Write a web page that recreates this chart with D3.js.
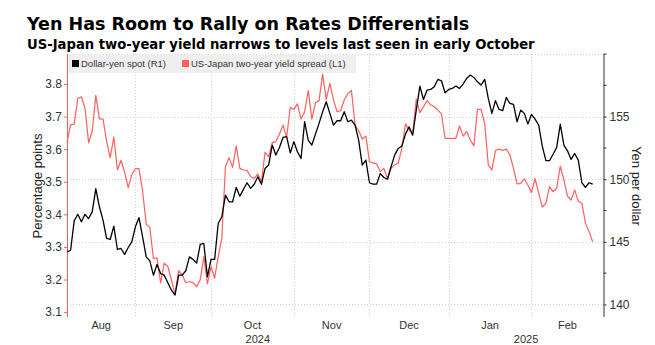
<!DOCTYPE html>
<html>
<head>
<meta charset="utf-8">
<script src="https://cdn.jsdelivr.net/npm/d3@7"></script>
<style>
  body { margin: 0; background: #fff; }
  svg { display: block; font-family: "Liberation Sans", Arial, sans-serif; }
</style>
</head>
<body>
<div id="chart"></div>
<script>
// first trading day shown; one value per weekday after it
const firstDay = "2024-08-06";

// US-Japan two-year yield spread, percentage points (left axis)
const spread = [
  3.62, 3.675, 3.677, 3.756, 3.76, 3.726, 3.62, 3.655, 3.765, 3.693,
  3.692, 3.624, 3.573, 3.637, 3.537, 3.566, 3.53, 3.482, 3.522, 3.54,
  3.54, 3.471, 3.37, 3.36, 3.265, 3.266, 3.19, 3.25, 3.24, 3.2,
  3.155, 3.227, 3.214, 3.19, 3.194, 3.19, 3.178, 3.2, 3.27, 3.187,
  3.24, 3.204, 3.27, 3.327, 3.546, 3.574, 3.544, 3.61, 3.541, 3.536,
  3.535, 3.516, 3.51, 3.524, 3.5, 3.59, 3.577, 3.62, 3.623, 3.646,
  3.674, 3.636, 3.728, 3.722, 3.739, 3.692, 3.715, 3.78, 3.692, 3.743,
  3.749, 3.83, 3.753, 3.802, 3.751, 3.715, 3.718, 3.751, 3.771, 3.78,
  3.674, 3.657, 3.631, 3.64, 3.562, 3.557, 3.555, 3.531, 3.541, 3.51,
  3.541, 3.552, 3.557, 3.603, 3.677, 3.659, 3.647, 3.753, 3.712, 3.73,
  3.749, 3.736, 3.73, 3.72, 3.708, 3.633, 3.633, 3.633, 3.633, 3.671,
  3.64, 3.654, 3.628, 3.61, 3.722, 3.722, 3.679, 3.552, 3.536, 3.596,
  3.6, 3.596, 3.6, 3.582, 3.541, 3.493, 3.495, 3.509, 3.49, 3.467,
  3.51, 3.465, 3.422, 3.434, 3.485, 3.47, 3.48, 3.548, 3.506, 3.456,
  3.444, 3.475, 3.44, 3.434, 3.373, 3.347, 3.316
];

// Dollar-yen spot (right axis)
const usdjpy = [
  144.2, 144.33, 146.68, 147.2, 146.6, 147.2, 146.86, 147.39, 149.25, 147.8,
  146.73, 145.27, 145.19, 146.25, 144.39, 144.47, 144.0, 144.55, 145.0, 146.2,
  146.94, 145.4, 143.8, 143.48, 142.34, 143.2, 142.47, 142.34, 141.73, 141.14,
  140.75, 142.34, 142.34, 142.69, 143.8, 143.6, 143.3, 144.8, 144.87, 142.2,
  143.6, 143.6, 146.47, 147.0, 148.73, 148.2, 148.2, 149.35, 148.65, 149.19,
  149.72, 149.27, 149.6, 150.2, 149.6, 150.86, 151.13, 152.73, 151.93, 152.54,
  153.34, 153.4, 152.1, 153.0, 152.2, 151.66, 154.6, 153.1, 152.73, 153.6,
  154.46, 155.39, 156.19, 155.26, 154.32, 154.67, 154.67, 155.39, 154.59, 154.72,
  154.32, 153.13, 151.13, 151.53, 149.72, 149.61, 149.61, 150.46, 150.14, 150.0,
  151.0, 151.93, 152.46, 152.65, 153.6, 154.19, 153.52, 155.52, 157.44, 156.37,
  157.12, 157.17, 157.39, 157.97, 157.86, 156.9, 157.17, 157.25, 157.44, 157.25,
  157.6, 158.05, 158.32, 158.13, 157.78, 157.52, 157.97, 156.45, 155.26, 156.27,
  155.57, 155.47, 156.53, 156.05, 155.97, 154.59, 155.52, 155.26, 154.4, 155.18,
  154.8, 154.32, 152.65, 151.48, 151.48, 152.0, 152.54, 154.4, 152.73, 152.27,
  151.58, 152.06, 151.53, 149.72, 149.35, 149.72, 149.61
];

const leftTicks = [3.1, 3.2, 3.3, 3.4, 3.5, 3.6, 3.7, 3.8];
const rightTicks = [140, 145, 150, 155];
const rightMinorTicks = [142.5, 147.5, 152.5, 157.5, 160];

const seriesNames = ["Dollar-yen spot (R1)", "US-Japan two-year yield spread (L1)"];
const seriesColors = ["#000000", "#ff5f5f"];

const title = "Yen Has Room to Rally on Rates Differentials";
const subtitle = "US-Japan two-year yield narrows to levels last seen in early October";

class YenChart {
  constructor(parentElement, width, height) {
    this.parentElement = parentElement;
    this.width = width;
    this.height = height;
    this.initVis();
  }

  initVis() {
    const vis = this;
    vis.plot = { left: 67, right: 603.5, top: 54, bottom: 317 };

    // weekday calendar used for the x positions
    const start = d3.utcParse("%Y-%m-%d")(firstDay);
    vis.dates = d3.utcDay.range(start, d3.utcDay.offset(start, 260))
      .filter(d => d.getUTCDay() % 6 !== 0);
    vis.lastSlot = 149;

    vis.x = d3.scaleLinear().domain([0, vis.lastSlot]).range([vis.plot.left, vis.plot.right]);
    vis.yLeft = d3.scaleLinear().domain([3.085, 3.892]).range([vis.plot.bottom, vis.plot.top]);
    vis.yRight = d3.scaleLinear().domain([139, 160]).range([vis.plot.bottom, vis.plot.top]);

    vis.svg = d3.select(vis.parentElement)
      .append("svg")
      .attr("width", vis.width)
      .attr("height", vis.height);
  }

  updateVis() {
    const vis = this;
    const p = vis.plot;

    vis.svg.append("text")
      .attr("x", 27).attr("y", 30)
      .style("font-family", "DejaVu Sans, sans-serif")
      .style("font-size", "17.5px").style("font-weight", "bold").attr("fill", "#000")
      .text(title);
    vis.svg.append("text")
      .attr("x", 27).attr("y", 49)
      .style("font-family", "DejaVu Sans, sans-serif")
      .style("font-size", "13.2px").style("font-weight", "bold").attr("fill", "#000")
      .text(subtitle);

    // month boundaries (first weekday of each month inside the plot)
    const months = d3.utcMonth.range(d3.utcMonth.ceil(vis.dates[1]), vis.dates[vis.lastSlot]);
    const bounds = months.map(m => vis.dates.findIndex(d => d >= m))
      .filter(b => b < vis.lastSlot);

    const grid = vis.svg.append("g").attr("class", "grid")
      .attr("stroke", "#cfcfcf").attr("stroke-dasharray", "1,2").attr("stroke-width", 1);
    grid.selectAll(".hgrid")
      .data(rightTicks.concat([160]))
      .join("line")
      .attr("x1", p.left).attr("x2", p.right)
      .attr("y1", d => Math.round(vis.yRight(d)) + 0.5)
      .attr("y2", d => Math.round(vis.yRight(d)) + 0.5);
    grid.selectAll(".vgrid")
      .data(bounds)
      .join("line")
      .attr("x1", d => Math.round(vis.x(d)) + 0.5)
      .attr("x2", d => Math.round(vis.x(d)) + 0.5)
      .attr("y1", p.top).attr("y2", p.bottom);

    // legend
    const legend = vis.svg.append("g").attr("class", "legend");
    legend.append("rect")
      .attr("x", 67).attr("y", 55).attr("width", 289).attr("height", 18)
      .attr("fill", "#efefef");
    const legendX = [72, 182];
    seriesNames.forEach((name, i) => {
      legend.append("rect")
        .attr("x", legendX[i]).attr("y", 60).attr("width", 7).attr("height", 7)
        .attr("fill", seriesColors[i]);
      legend.append("text")
        .attr("x", legendX[i] + 9).attr("y", 67)
        .style("font-size", "9.5px").attr("fill", "#333")
        .text(name);
    });

    // left axis
    const leftAxis = vis.svg.append("g")
      .attr("transform", `translate(${p.left},0)`)
      .call(d3.axisLeft(vis.yLeft).tickValues(leftTicks).tickSize(3).tickFormat(d3.format(".1f")));
    leftAxis.select(".domain").attr("stroke", seriesColors[1]).attr("d", `M0.5,${p.top}V${p.bottom}`);
    leftAxis.selectAll(".tick line").attr("stroke", seriesColors[1]);
    leftAxis.selectAll(".tick text")
      .attr("x", -5).style("font-size", "12px").style("font-family", "Liberation Sans, Arial, sans-serif")
      .attr("fill", "#333");

    // right axis
    const rightAxis = vis.svg.append("g")
      .attr("transform", `translate(${p.right},0)`)
      .call(d3.axisRight(vis.yRight).tickValues(rightTicks).tickSize(3));
    rightAxis.select(".domain").attr("stroke", "#333").attr("d", `M0.5,${p.top}V${p.bottom}`);
    rightAxis.selectAll(".tick line").attr("stroke", "#333");
    rightAxis.selectAll(".tick text")
      .attr("x", 6).style("font-size", "12px").style("font-family", "Liberation Sans, Arial, sans-serif")
      .attr("fill", "#333");
    rightAxis.selectAll(".minor")
      .data(rightMinorTicks)
      .join("line")
      .attr("class", "minor")
      .attr("x1", 0).attr("x2", 3)
      .attr("y1", d => vis.yRight(d)).attr("y2", d => vis.yRight(d))
      .attr("stroke", "#333");

    // axis titles
    vis.svg.append("text")
      .attr("transform", `translate(42,186) rotate(-90)`)
      .attr("text-anchor", "middle")
      .style("font-size", "13px").attr("fill", "#222")
      .text("Percentage points");
    vis.svg.append("text")
      .attr("transform", `translate(632,186) rotate(90)`)
      .attr("text-anchor", "middle")
      .style("font-size", "13px").attr("fill", "#222")
      .text("Yen per dollar");

    // month and year labels, centred on the visible part of each period
    const edges = [0].concat(bounds).concat([vis.lastSlot]);
    const monthFmt = d3.utcFormat("%b");
    const monthLabels = edges.slice(0, -1).map((b, i) => ({
      text: monthFmt(vis.dates[b]),
      x: (vis.x(b) + vis.x(edges[i + 1])) / 2
    }));
    vis.svg.selectAll(".month")
      .data(monthLabels)
      .join("text")
      .attr("class", "month")
      .attr("x", d => d.x).attr("y", 329)
      .attr("text-anchor", "middle")
      .style("font-size", "11px").attr("fill", "#333")
      .text(d => d.text);

    const yearStart = vis.dates.findIndex(d => d.getUTCFullYear() === 2025);
    const yearLabels = [
      { text: "2024", x: (vis.x(0) + vis.x(yearStart)) / 2 },
      { text: "2025", x: (vis.x(yearStart) + vis.x(vis.lastSlot)) / 2 }
    ];
    vis.svg.selectAll(".year")
      .data(yearLabels)
      .join("text")
      .attr("class", "year")
      .attr("x", d => d.x).attr("y", 343)
      .attr("text-anchor", "middle")
      .style("font-size", "11px").attr("fill", "#333")
      .text(d => d.text);

    // lines
    const spreadLine = d3.line()
      .x((d, i) => vis.x(i))
      .y(d => vis.yLeft(d));
    const yenLine = d3.line()
      .x((d, i) => vis.x(i))
      .y(d => vis.yRight(d));

    vis.svg.append("path")
      .datum(spread)
      .attr("fill", "none")
      .attr("stroke", seriesColors[1])
      .attr("stroke-width", 1.2)
      .attr("stroke-linejoin", "round")
      .attr("d", spreadLine);

    vis.svg.append("path")
      .datum(usdjpy)
      .attr("fill", "none")
      .attr("stroke", seriesColors[0])
      .attr("stroke-width", 1.3)
      .attr("stroke-linejoin", "round")
      .attr("d", yenLine);
  }
}

const chart = new YenChart("#chart", 655, 345);
chart.updateVis();
</script>
</body>
</html>
